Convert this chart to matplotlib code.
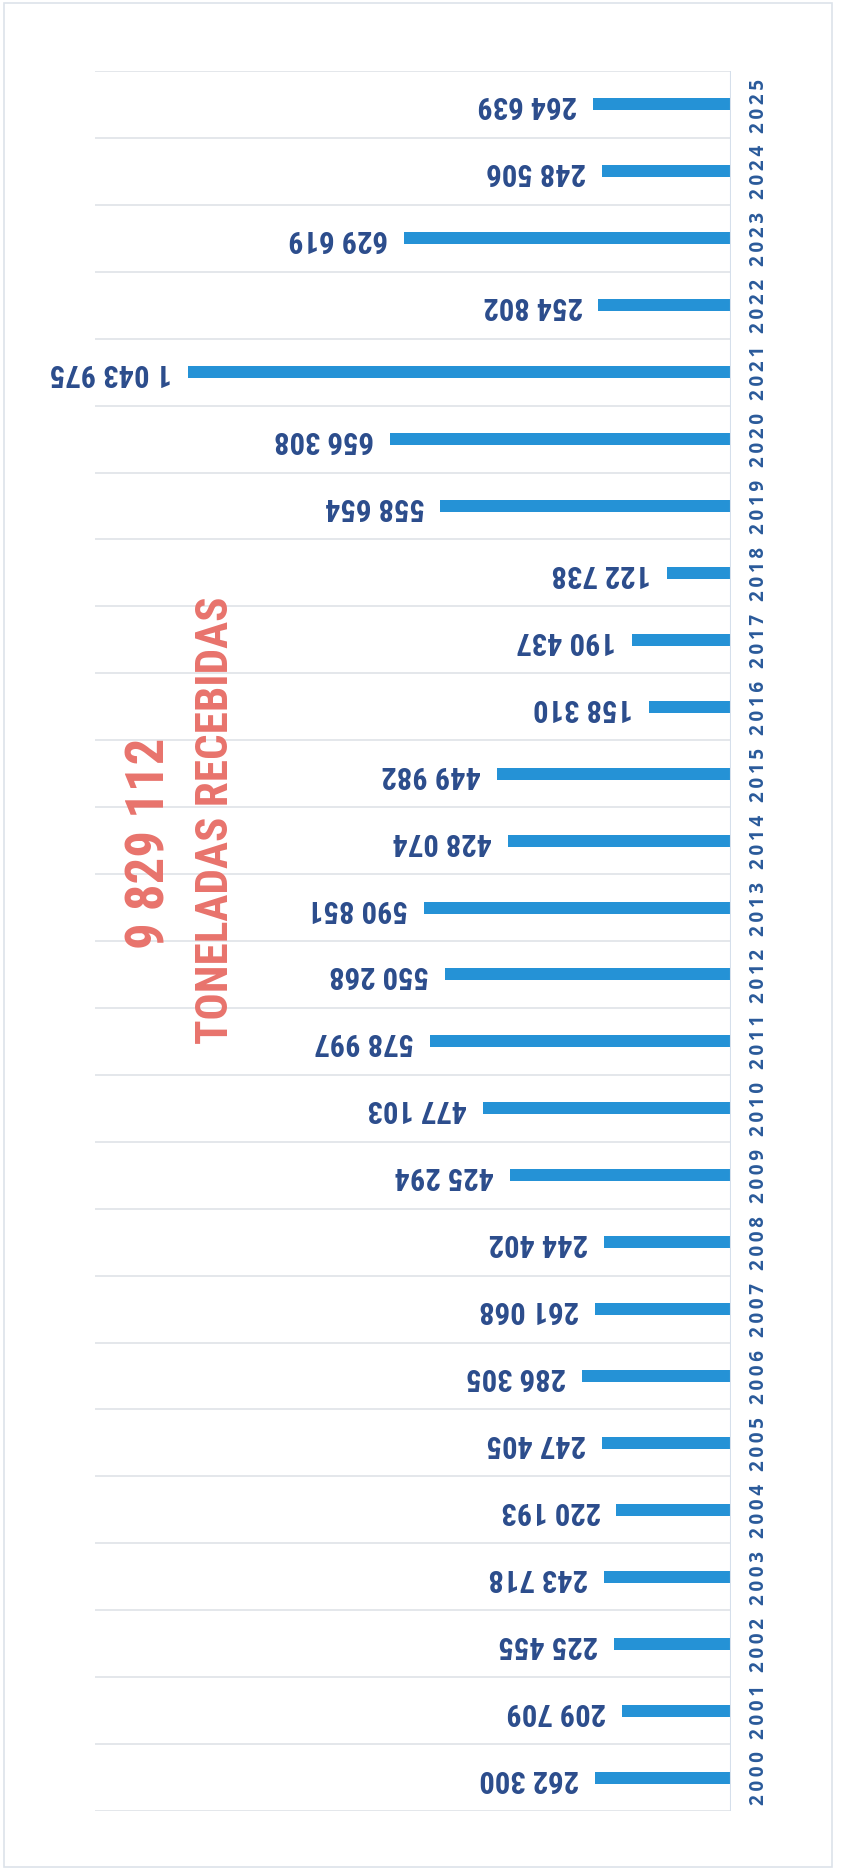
import matplotlib; matplotlib.use("Agg")
import matplotlib.pyplot as plt
import matplotlib.transforms as mtransforms
from matplotlib.patches import Rectangle
from matplotlib import font_manager
import numpy as np

# toneladas recebidas por ano (gráfico original rodado 90°)
anos = [str(a) for a in range(2000, 2026)]
toneladas = [262300, 209709, 225455, 243718, 220193, 247405, 286305, 261068, 244402,
             425294, 477103, 578997, 550268, 590851, 428074, 449982, 158310, 190437,
             122738, 558654, 656308, 1043975, 254802, 629619, 248506, 264639]
total_txt = "9 829 112"
titulo_txt = "TONELADAS RECEBIDAS"

W, H = 843, 1874
BAR = "#2592d6"; LAB = "#2b4c8c"; YEAR = "#2a5a9a"; RED = "#e8736c"

# procurar uma fonte estreita instalada
nomes = {f.name for f in font_manager.fontManager.ttflist}
cond = [n for n in ["Liberation Sans Narrow", "Roboto Condensed", "Open Sans Condensed",
                    "DejaVu Sans Condensed", "Noto Sans Condensed"] if n in nomes]
NARROW = cond + ["DejaVu Sans"]

def fmt(v):
    return f"{v:,}".replace(",", " ")

fig = plt.figure(figsize=(W/100, H/100), dpi=100)
fig.patch.set_facecolor("white")
fig.patches.append(Rectangle((4/W, 1-1868/H), 828/W, 1864/H, transform=fig.transFigure,
                             fill=False, edgecolor="#dde3ea", linewidth=1.2))

ax = fig.add_axes([95/W, 62/H, 636/W, 1740/H])
y = np.arange(len(anos))
ax.barh(y, toneladas, height=0.18, color=BAR)
ax.set_xlim(1.223e6, 0)
ax.set_ylim(-0.5, len(anos)-0.5)
for b in np.arange(-0.5, len(anos), 1.0):
    ax.axhline(b, color="#e4e7eb", lw=1.4, zorder=0)
ax.axvline(0, color="#d5dfeb", lw=1.5)
for s in ax.spines.values(): s.set_visible(False)
ax.set_xticks([]); ax.set_yticks([])

for yi, v in zip(y, toneladas):
    ax.annotate(fmt(v), (v, yi), xytext=(-11.5, 0), textcoords="offset points",
                rotation=180, ha="right", va="center", fontsize=22, fontweight="bold",
                fontstretch="condensed", color=LAB, family=NARROW)

tr = mtransforms.blended_transform_factory(ax.transAxes, ax.transData)
for yi, a in zip(y, anos):
    ax.text(1.044, yi, "\u2009".join(a), transform=tr, rotation=90, ha="center", va="center",
            fontsize=13.5, fontweight="bold", color=YEAR, family=["Open Sans", "DejaVu Sans"])

fig.text(150/W, 1-843/H, total_txt, rotation=90, ha="center", va="center",
         fontsize=38, fontweight="bold", fontstretch="condensed", color=RED, family=NARROW)
fig.text(216/W, 1-820/H, titulo_txt, rotation=90, ha="center", va="center",
         fontsize=32.5, fontweight="bold", fontstretch="condensed", color=RED, family=NARROW)

fig.savefig("out.png", dpi=100)
